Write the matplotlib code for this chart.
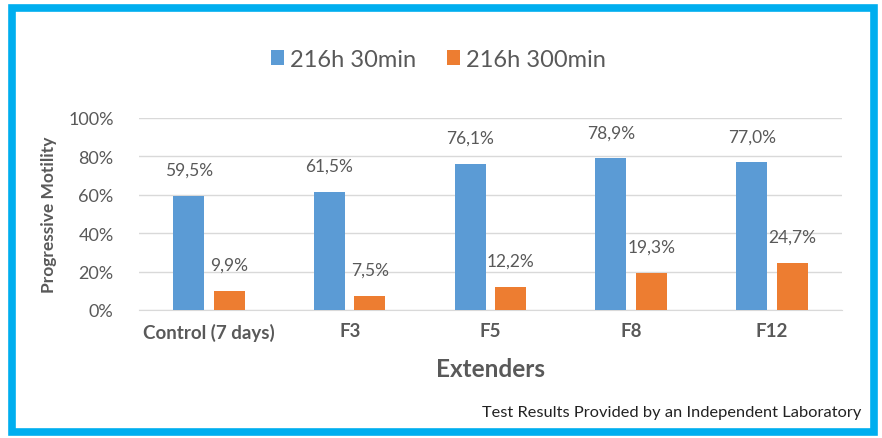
import matplotlib
matplotlib.use("Agg")
import matplotlib.pyplot as plt
import numpy as np
from matplotlib.patches import Rectangle

categories = ["Control (7 days)", "F3", "F5", "F8", "F12"]
series_names = ["216h 30min", "216h 300min"]
motility_30 = [59.5, 61.5, 76.1, 78.9, 77.0]
motility_300 = [9.9, 7.5, 12.2, 19.3, 24.7]
yticks = [0, 20, 40, 60, 80, 100]

BLUE = "#5B9BD5"
ORANGE = "#ED7D31"
GREY = "#595959"
FONT = "Lato"

fig = plt.figure(figsize=(8.82, 4.39), dpi=100)
ax = fig.add_axes([0.1571, 0.2916, 0.798, 0.4374])

x = np.arange(len(categories))
w = 0.22
off = 0.144
b1 = ax.bar(x - off, motility_30, w, color=BLUE, label=series_names[0], zorder=3)
b2 = ax.bar(x + off, motility_300, w, color=ORANGE, label=series_names[1], zorder=3)

for bars, vals in ((b1, motility_30), (b2, motility_300)):
    for r, v in zip(bars, vals):
        ax.annotate(f"{v:.1f}%".replace(".", ","),
                    (r.get_x() + r.get_width() / 2, v),
                    xytext=(0, 18), textcoords="offset pixels",
                    ha="center", va="bottom", fontsize=12.5,
                    color=GREY, family=FONT)

ax.set_xlim(-0.5, len(categories) - 0.5)
ax.set_ylim(0, 100)
ax.set_yticks(yticks)
ax.set_yticklabels([f"{t}%" for t in yticks], fontsize=13, color=GREY, family=FONT)
ax.set_xticks(x)
ax.set_xticklabels(categories, fontsize=13.5, color=GREY, family=FONT,
                   fontweight="bold")
ax.tick_params(length=0, pad=9)
ax.tick_params(axis="y", pad=18)
ax.grid(axis="y", color="#D9D9D9", lw=1, zorder=0)
for s in ("top", "right", "left"):
    ax.spines[s].set_visible(False)
ax.spines["bottom"].set_color("#D9D9D9")

ax.set_ylabel("Progressive Motility", fontsize=12.5, fontweight="bold",
              color=GREY, family=FONT, labelpad=8)
ax.set_xlabel("Extenders", fontsize=17.5, fontweight="bold", color=GREY,
              family=FONT, labelpad=12)

fig.legend(handles=[b1, b2], loc="center", bbox_to_anchor=(0.497, 0.863),
           ncol=2, frameon=False, prop={"family": FONT, "size": 17},
           labelcolor=GREY, handlelength=0.55, handleheight=0.6,
           handletextpad=0.25, columnspacing=1.3)

fig.text(0.977, 0.06, "Test Results Provided by an Independent Laboratory",
         ha="right", va="center", fontsize=11.8, color="#222222", family=FONT)

fig.patches.append(Rectangle((12 / 882, 6 / 439), 862 / 882, 424 / 439,
                             transform=fig.transFigure, fill=False,
                             edgecolor="#00AEEF", lw=5.5))

fig.savefig("out.png", dpi=100)
